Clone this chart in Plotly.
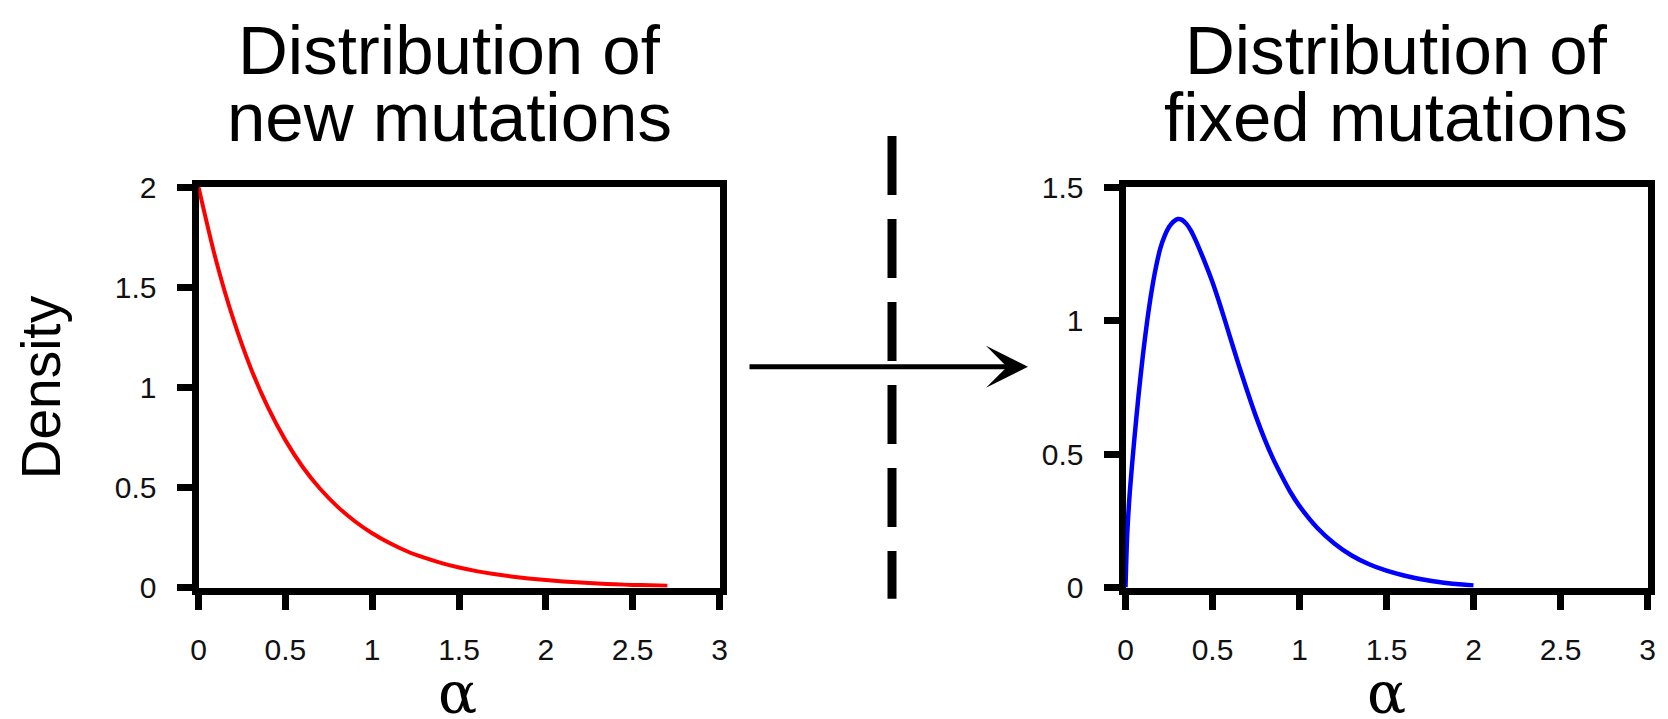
import plotly.graph_objects as go

W, H = 1668, 719

# ---- data ----
alpha_new = [0.0, 0.1, 0.2, 0.3, 0.4, 0.5, 0.6, 0.7, 0.8, 0.9, 1.0, 1.1, 1.2, 1.3,
             1.4, 1.5, 1.6, 1.7, 1.8, 1.9, 2.0, 2.1, 2.2, 2.3, 2.4, 2.5, 2.6, 2.7]
density_new = [2.0, 1.637, 1.341, 1.098, 0.899, 0.736, 0.602, 0.493, 0.404, 0.331, 0.271,
               0.222, 0.181, 0.149, 0.122, 0.100, 0.082, 0.067, 0.055, 0.045, 0.037,
               0.030, 0.025, 0.020, 0.016, 0.013, 0.011, 0.009]

alpha_fixed = [0.0, 0.01, 0.025, 0.05, 0.075, 0.1, 0.125, 0.15, 0.175, 0.2, 0.225, 0.25,
               0.275, 0.3, 0.325, 0.35, 0.375, 0.4, 0.45, 0.5, 0.55, 0.6, 0.65, 0.7, 0.75,
               0.8, 0.85, 0.9, 0.95, 1.0, 1.1, 1.2, 1.3, 1.4, 1.5, 1.6, 1.7, 1.8, 1.9, 2.0]
density_fixed = [0.0, 0.2, 0.36, 0.55, 0.72, 0.87, 1.0, 1.11, 1.2, 1.27, 1.317, 1.35,
                 1.37, 1.38, 1.377, 1.362, 1.338, 1.305, 1.228, 1.143, 1.045, 0.94, 0.835,
                 0.735, 0.64, 0.555, 0.48, 0.415, 0.355, 0.305, 0.225, 0.165, 0.12, 0.087,
                 0.063, 0.045, 0.031, 0.021, 0.013, 0.008]

x_tickvals = [0, 0.5, 1, 1.5, 2, 2.5, 3]
x_ticktext = ["0", "0.5", "1", "1.5", "2", "2.5", "3"]
y1_tickvals = [0, 0.5, 1, 1.5, 2]
y1_ticktext = ["0", "0.5", "1", "1.5", "2"]
y2_tickvals = [0, 0.5, 1, 1.5]
y2_ticktext = ["0", "0.5", "1", "1.5"]

title_left = ["Distribution of", "new mutations"]
title_right = ["Distribution of", "fixed mutations"]
x_title = "α"
y_title = "Density"

# ---- layout helpers: page pixel -> paper fraction (page has an 8px body margin) ----
OX, OY, FW, FH = 8, 8, 1652, 703

def px(x):
    return (x - OX) / FW

def py(y):
    return 1 - (y - OY) / FH

SANS = "Liberation Sans, Arial, sans-serif"
SERIF = "DejaVu Serif, Liberation Serif, serif"

fig = go.Figure()
fig.add_trace(go.Scatter(x=alpha_new, y=density_new, mode="lines",
                         line=dict(color="#ff0000", width=4, shape="spline", smoothing=0.8),
                         xaxis="x", yaxis="y", hoverinfo="skip", showlegend=False))
fig.add_trace(go.Scatter(x=alpha_fixed, y=density_fixed, mode="lines",
                         line=dict(color="#0000ff", width=4.5, shape="spline", smoothing=0.8),
                         xaxis="x2", yaxis="y2", hoverinfo="skip", showlegend=False))

axis_common = dict(showline=True, linewidth=7, linecolor="black", mirror=True,
                   ticks="outside", ticklen=15, tickwidth=7, tickcolor="black",
                   showgrid=False, zeroline=False,
                   tickfont=dict(family=SANS, size=30, color="#111111"),
                   layer="below traces", fixedrange=True)

top, bottom = 182.5, 593.5
fig.update_layout(
    width=W, height=H, margin=dict(l=0, r=0, t=0, b=0),
    paper_bgcolor="white", plot_bgcolor="white",
    xaxis=dict(domain=[px(198.5), px(719.5)], range=[0, 3], anchor="y",
               tickvals=x_tickvals, ticktext=x_ticktext, ticklabelstandoff=14, **axis_common),
    yaxis=dict(domain=[py(bottom), py(top)], range=[0, 2], anchor="x",
               tickvals=y1_tickvals, ticktext=y1_ticktext, ticklabelstandoff=14, **axis_common),
    xaxis2=dict(domain=[px(1125.5), px(1647.5)], range=[0, 3], anchor="y2",
                tickvals=x_tickvals, ticktext=x_ticktext, ticklabelstandoff=14, **axis_common),
    yaxis2=dict(domain=[py(bottom), py(top)], range=[0, 1.5], anchor="x2",
                tickvals=y2_tickvals, ticktext=y2_ticktext, ticklabelstandoff=14, **axis_common),
)

ann = []
for cx, lines in ((449, title_left), (1396, title_right)):
    for i, t in enumerate(lines):
        ann.append(dict(text=t, x=px(cx), y=py(42.5 + 69 * i), xref="paper", yref="paper",
                        xanchor="center", yanchor="middle", showarrow=False,
                        font=dict(family=SANS, size=69, color="black")))
for cx in (457, 1386):
    ann.append(dict(text=x_title, x=px(cx), y=py(702), xref="paper", yref="paper",
                    xanchor="center", yanchor="middle", showarrow=False,
                    font=dict(family=SERIF, size=58, color="black")))
ann.append(dict(text=y_title, x=px(41), y=py(388), xref="paper", yref="paper",
                xanchor="center", yanchor="middle", showarrow=False, textangle=-90,
                font=dict(family=SANS, size=55, color="black")))
# arrow
ann.append(dict(text="", x=px(1028), y=py(367), xref="paper", yref="paper",
                ax=748 - 1028, ay=0, axref="pixel", ayref="pixel",
                showarrow=True, arrowhead=3, arrowsize=1.4, arrowwidth=5,
                arrowcolor="black", standoff=0))
fig.update_layout(annotations=ann)

# dashed separator
fig.add_shape(type="line", xref="paper", yref="paper",
              x0=px(892), x1=px(892), y0=py(130), y1=py(605),
              line=dict(color="black", width=9, dash="59px,24px"))

fig.write_html("out.html")
